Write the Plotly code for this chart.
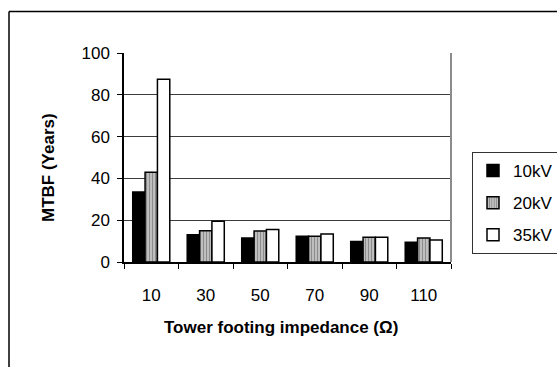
import plotly.graph_objects as go

# Tower footing impedance categories (ohms) and MTBF results (years)
impedance = ["10", "30", "50", "70", "90", "110"]
mtbf_10kv = [33.5, 13.0, 11.5, 12.3, 9.8, 9.5]
mtbf_20kv = [43.0, 15.0, 14.8, 12.3, 11.8, 11.5]
mtbf_35kv = [87.5, 19.5, 15.6, 13.4, 11.8, 10.5]
series_names = ["10kV", "20kV", "35kV"]
y_ticks = [0, 20, 40, 60, 80, 100]

W, H = 557, 367
L, R, T, B = 124, 106, 53, 105
PW, PH = W - L - R, H - T - B


def px_x(x):
    return (x - L) / PW


def px_y(y):
    return (H - B - y) / PH


FONT = "Liberation Sans, Arial, sans-serif"

fig = go.Figure()
fig.add_trace(go.Bar(
    x=impedance, y=mtbf_10kv, name=series_names[0],
    marker=dict(color="black", line=dict(color="black", width=1.5)),
    legendgroup="a",
))
fig.add_trace(go.Bar(
    x=impedance, y=mtbf_20kv, name=series_names[1],
    marker=dict(
        color="#a8a8a8",
        line=dict(color="black", width=1.5),
        pattern=dict(shape="|", fgcolor="#505050", bgcolor="#c8c8c8",
                     size=3, solidity=0.45),
    ),
    legendgroup="b",
))
fig.add_trace(go.Bar(
    x=impedance, y=mtbf_35kv, name=series_names[2],
    marker=dict(color="white", line=dict(color="black", width=1.5)),
    legendgroup="c",
))

shapes = [
    # plot area right border
    dict(type="line", xref="paper", yref="paper", x0=1, x1=1, y0=0, y1=1,
         line=dict(color="#8c8c8c", width=2)),
    # chart frame
    dict(type="line", xref="paper", yref="paper",
         x0=px_x(9), x1=px_x(W + 5), y0=px_y(11.5), y1=px_y(11.5),
         line=dict(color="black", width=1.5)),
    dict(type="line", xref="paper", yref="paper",
         x0=px_x(9), x1=px_x(9), y0=px_y(11.5), y1=px_y(H + 5),
         line=dict(color="black", width=1.5)),
]

annotations = [
    dict(text="<b>Tower footing impedance (Ω)</b>", xref="paper", yref="paper",
         x=px_x(281), y=px_y(327), xanchor="center", yanchor="middle",
         showarrow=False, font=dict(family=FONT, size=17, color="black")),
    dict(text="<b>MTBF (Years)</b>", xref="paper", yref="paper",
         x=px_x(48), y=px_y(168), xanchor="center", yanchor="middle",
         textangle=-90, showarrow=False,
         font=dict(family=FONT, size=17, color="black")),
]

fig.update_layout(
    width=W, height=H,
    margin=dict(l=L, r=R, t=T, b=B, pad=0, autoexpand=False),
    paper_bgcolor="white", plot_bgcolor="white",
    barmode="group", bargap=0.32, bargroupgap=0,
    font=dict(family=FONT, size=17, color="black"),
    shapes=shapes,
    annotations=annotations,
    showlegend=True,
    legend=dict(
        x=px_x(472), y=px_y(152), xanchor="left", yanchor="top",
        bordercolor="#333333", borderwidth=1, bgcolor="white",
        font=dict(family=FONT, size=17, color="black"),
        traceorder="grouped", tracegroupgap=7,
        itemwidth=30,
    ),
    xaxis=dict(
        type="category",
        showline=True, linecolor="black", linewidth=1.5,
        ticks="outside", tickson="boundaries", ticklen=5,
        tickcolor="black", tickwidth=1,
        ticklabelstandoff=17,
        showgrid=False,
    ),
    yaxis=dict(
        range=[0, 100], tickvals=y_ticks,
        showline=True, linecolor="black", linewidth=1.5,
        ticks="outside", ticklen=5, tickcolor="black", tickwidth=1,
        ticklabelstandoff=4,
        showgrid=True, gridcolor="#3c3c3c", gridwidth=1,
        zeroline=False,
    ),
)

fig.write_html("out.html")
